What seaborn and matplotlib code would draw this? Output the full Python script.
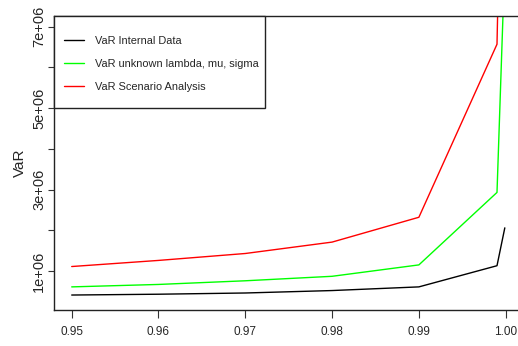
import numpy as np
import pandas as pd
import matplotlib
matplotlib.use("Agg")
import matplotlib.pyplot as plt
from matplotlib.lines import Line2D
from matplotlib.patches import Rectangle
import seaborn as sns

quantiles = [0.95, 0.96, 0.97, 0.98, 0.99, 0.999, 0.9999]
var_internal = [0.41e6, 0.43e6, 0.46e6, 0.52e6, 0.61e6, 1.13e6, 2.06e6]
var_unknown = [0.61e6, 0.67e6, 0.76e6, 0.87e6, 1.15e6, 2.93e6, 8.6e6]
var_scenario = [1.11e6, 1.26e6, 1.43e6, 1.71e6, 2.32e6, 6.57e6, 15.6e6]
series_names = ["VaR Internal Data", "VaR unknown lambda, mu, sigma", "VaR Scenario Analysis"]
series_colors = ["#000000", "#00ff00", "#ff0000"]
x_ticks = [0.95, 0.96, 0.97, 0.98, 0.99, 1.00]
x_ticklabels = ["0.95", "0.96", "0.97", "0.98", "0.99", "1.00"]
y_ticks = [1e6, 2e6, 3e6, 4e6, 5e6, 6e6, 7e6]
y_ticklabels = ["1e+06", "", "3e+06", "", "5e+06", "", "7e+06"]

frames = []
for name, vals in zip(series_names, [var_internal, var_unknown, var_scenario]):
    frames.append(pd.DataFrame({"q": quantiles, "VaR": vals, "series": name}))
df = pd.concat(frames, ignore_index=True)

sns.set_theme(style="white")
plt.rcParams["font.family"] = ["Liberation Sans", "DejaVu Sans"]

W, H = 518, 346
fig = plt.figure(figsize=(W / 100, H / 100), dpi=100)
ax = fig.add_axes([54 / W, (H - 310) / H, (518 - 54) / W, (310 - 16) / H])

sns.lineplot(data=df, x="q", y="VaR", hue="series", hue_order=series_names,
             palette=dict(zip(series_names, series_colors)), linewidth=1.0,
             ax=ax, legend=False, estimator=None)

ax.set_xlim(0.94796, 1.00142)
ax.set_ylim(0.0423e6, 7.263e6)
ax.set_xticks(x_ticks)
ax.set_xticklabels(x_ticklabels, fontsize=8.5)
ax.set_yticks(y_ticks)
ax.set_yticklabels(y_ticklabels, fontsize=10.5, rotation=90, va="center")
ax.tick_params(axis="x", direction="out", length=5.8, width=0.8, color="#333333",
               bottom=True, pad=6)
ax.tick_params(axis="y", direction="out", length=4.0, width=0.8, color="#333333",
               left=True, pad=1.5)
ax.set_xlabel("")
ax.set_ylabel("VaR", fontsize=11, labelpad=4)
for side in ["left", "bottom", "top"]:
    ax.spines[side].set_visible(True)
    ax.spines[side].set_color("#222222")
    ax.spines[side].set_linewidth(1.0)
ax.spines["right"].set_visible(False)

# legend frame
fig.add_artist(Rectangle((54 / W, 1 - 108 / H), (265 - 54) / W, (108 - 16) / H,
                         transform=fig.transFigure, facecolor="white",
                         edgecolor="#222222", linewidth=1.0, zorder=5))
lfs = 7.9
E = lfs / 0.72
handles = [Line2D([], [], color=c, linewidth=1.0) for c in series_colors]
leg = fig.legend(handles, series_names, loc="upper left",
                 bbox_to_anchor=(64 / W, 1 - 35.5 / H), bbox_transform=fig.transFigure,
                 borderaxespad=0, borderpad=0, frameon=False, fontsize=lfs,
                 handlelength=20 / E, handletextpad=11 / E, labelspacing=1.22)
leg.set_zorder(6)

fig.savefig("out.png", dpi=100)
